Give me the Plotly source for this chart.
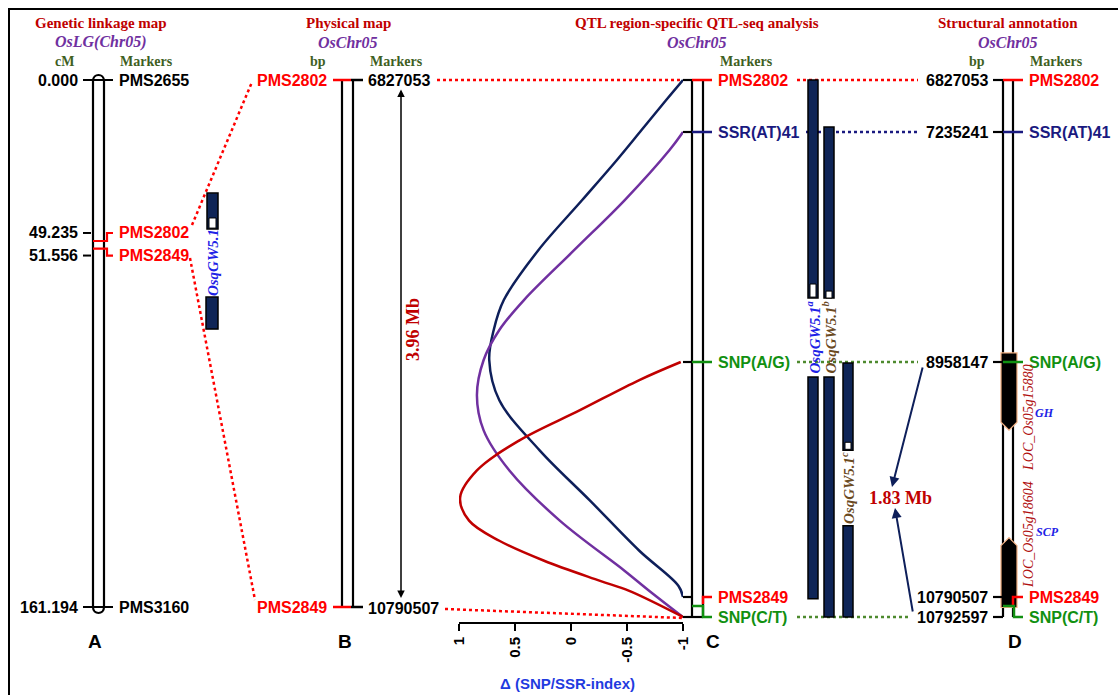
import numpy as np
import plotly.graph_objects as go

# ---------------- data ----------------
lg_markers = ["PMS2655", "PMS2802", "PMS2849", "PMS3160"]
lg_cM = [0.000, 49.235, 51.556, 161.194]
lg_colors = ["black", "#ff0000", "#ff0000", "black"]
lg_qtl_cM = [34.6, 45.6, 66.4, 76.2]          # upper seg start/end, lower seg start/end
lg_qtl_peak_cM = [42.2, 45.3]

phys_markers = ["PMS2802", "PMS2849"]
phys_bp = [6827053, 10790507]
interval_B = "3.96 Mb"

qtl_markers = ["PMS2802", "SSR(AT)41", "SNP(A/G)", "PMS2849", "SNP(C/T)"]
qtl_bp = [6827053, 7235241, 8958147, 10790507, 10792597]
qtl_colors = ["#ff0000", "#1a1a80", "#119011", "#ff0000", "#119011"]

# delta (SNP/SSR-index) profiles along the region (Mb)
navy_mb = [6.8271, 6.984, 7.220, 7.445, 7.745, 8.119, 8.494, 8.718, 8.943, 9.256, 9.647, 10.039, 10.430, 10.704, 10.7905]
navy_d = [-1.0, -0.85, -0.63, -0.41, -0.10, 0.29, 0.60, 0.69, 0.73, 0.64, 0.28, -0.17, -0.61, -0.96, -1.0]
purple_mb = [7.2352, 7.370, 7.745, 8.119, 8.494, 8.718, 8.943, 9.217, 9.491, 9.804, 10.195, 10.587, 10.743, 10.7926]
purple_d = [-1.0, -0.88, -0.48, -0.03, 0.42, 0.64, 0.78, 0.84, 0.78, 0.55, 0.10, -0.48, -0.70, -1.0]
red_mb = [8.9581, 9.099, 9.334, 9.569, 9.804, 10.015, 10.195, 10.352, 10.508, 10.665, 10.743, 10.7926]
red_d = [-0.98, -0.61, -0.08, 0.46, 0.84, 0.99, 0.91, 0.64, 0.24, -0.26, -0.52, -1.0]
delta_ticks = [1, 0.5, 0, -0.5, -1]
delta_ticktext = ["1", "0.5", "0", "-0.5", "-1"]

# QTL sub-intervals (Mb): [upper start, upper end, lower start, lower end], peak box
qtl_names = ["OsqGW5.1<sup>a</sup>", "OsqGW5.1<sup>b</sup>", "OsqGW5.1<sup>c</sup>"]
qtl_segs = [[6.8271, 8.479, 9.075, 10.7907],
            [7.196, 8.479, 9.075, 10.7926],
            [8.966, 9.647, 10.234, 10.7926]]
qtl_peaks = [[8.374, 8.472], [8.427, 8.479], [9.584, 9.639]]
qtl_label_colors = ["#1e22e6", "#6b4a1f", "#6b4a1f"]

genes = ["LOC_Os05g15880", "LOC_Os05g18604"]
gene_func = ["GH", "SCP"]
gene_mb = [[8.890, 9.490], [10.328, 10.7916]]
interval_D = "1.83 Mb"

# ---------------- styles / layout ----------------
W, H = 1118, 695
SANS = "Liberation Sans, Arial, sans-serif"
SERIF = "Liberation Serif, Times New Roman, serif"
TRED = "#c00000"
PURP = "#7030a0"
GRN = "#3f5f1f"
NAVY = "#0e1f5a"
BARFILL = "#0f2557"

TOP, BOT = 80, 607
yA = lambda c: TOP + np.asarray(c, float) * (BOT - TOP) / 161.194
yB = lambda b: TOP + (np.asarray(b, float) - phys_bp[0]) * (BOT - TOP) / (phys_bp[1] - phys_bp[0])
anch_px = [80, 132, 362, 597, 617]
anch_mb = [b / 1e6 for b in qtl_bp]
yC = lambda mb: np.interp(mb, anch_mb, anch_px)

shapes, anns = [], []


def line(x0, y0, x1, y1, color="black", width=2, dash=None):
    shapes.append(dict(type="line", xref="x", yref="y", x0=x0, y0=float(y0), x1=x1, y1=float(y1),
                       line=dict(color=color, width=width, dash=dash)))


def path(d, color="black", width=2, fill=None):
    s = dict(type="path", xref="x", yref="y", path=d, line=dict(color=color, width=width))
    if fill:
        s["fillcolor"] = fill
    shapes.append(s)


def rect(x0, y0, x1, y1, fill, lc="black", lw=1.5):
    shapes.append(dict(type="rect", xref="x", yref="y", x0=x0, y0=float(y0), x1=x1, y1=float(y1),
                       fillcolor=fill, line=dict(color=lc, width=lw)))


def text(x, y, s, size=16, color="black", family=SANS, bold=True, italic=False,
         xanchor="center", yanchor="middle", angle=0):
    f = dict(family=family, size=size, color=color)
    if bold:
        f["weight"] = "bold"
    if italic:
        f["style"] = "italic"
    anns.append(dict(x=x, y=float(y), xref="x", yref="y", text=s, showarrow=False, font=f,
                     xanchor=xanchor, yanchor=yanchor, textangle=angle, borderpad=0))


def arrow(x0, y0, x1, y1, color, width=1.5, both=False):
    a = dict(x=x1, y=float(y1), ax=x0, ay=float(y0), xref="x", yref="y", axref="x", ayref="y",
             text="", showarrow=True, arrowhead=2, arrowsize=1, arrowwidth=width, arrowcolor=color)
    if both:
        a.update(arrowside="end+start", startarrowhead=2, startarrowsize=1)
    anns.append(a)


# frame (right/bottom edges lie outside the picture)
rect(9, 9, 1122, 705, "rgba(0,0,0,0)", "black", 2)

# headers
def header(cx, title, sub, cols):
    text(cx, 23, title, 15, TRED, SERIF)
    text(cx, 42, sub, 16, PURP, SERIF, italic=True)
    for x, t in cols:
        text(x, 61, t, 14, GRN, SERIF)

header(101, "Genetic linkage map", "OsLG(Chr05)", [(64, "cM"), (146, "Markers")])
header(348, "Physical map", "OsChr05", [(318, "bp"), (396, "Markers")])
header(697, "QTL region-specific QTL-seq analysis", "OsChr05", [(746, "Markers")])
header(1008, "Structural annotation", "OsChr05", [(977, "bp"), (1056, "Markers")])

# ---------- connectors (drawn first) ----------
RDOT = "#ff0000"
line(192, 225, 252, 82, RDOT, 2.5, "dot")
line(190, 258, 255, 600, RDOT, 2.5, "dot")
line(437, yB(phys_bp[0]), 683, anch_px[0], RDOT, 2.5, "dot")
line(445, yB(phys_bp[1]) + 2, 683, anch_px[4] + 1, RDOT, 2.5, "dot")
line(797, anch_px[0], 918, anch_px[0], RDOT, 2.5, "dot")
line(806, anch_px[1], 920, anch_px[1], "#1a1a80", 2.5, "dot")
line(797, anch_px[2], 918, anch_px[2], "#4e8a2e", 2.5, "dot")
line(797, anch_px[4], 910, anch_px[4], "#4e8a2e", 2.5, "dot")

# ---------- Panel A ----------
path("M93,607 L93,81 C93,73 104,73 104,81 L104,607 C104,615 93,615 93,607 Z", "black", 2.2)
ya = yA(lg_cM)
line(83, ya[0], 113, ya[0])
line(83, ya[3], 113, ya[3])
lab_off = [0, -8, 7, 0]
for i in (1, 2):
    yl = ya[i] + lab_off[i]
    line(83, yl, 91, yl)
    path(f"M93,{ya[i]:.1f} L107,{ya[i]:.1f} L107,{yl:.1f} L113,{yl:.1f}", lg_colors[i], 2.2)
for i in range(4):
    yl = ya[i] + lab_off[i]
    text(79, yl, f"{lg_cM[i]:.3f}", 16, "black", xanchor="right")
    text(118, yl, lg_markers[i], 16, lg_colors[i], xanchor="left")
# QTL bar on A
qa = yA(lg_qtl_cM)
rect(207, qa[0], 218, qa[1], BARFILL)
pk = yA(lg_qtl_peak_cM)
rect(209, pk[0], 216, pk[1], "white", "black", 1)
rect(206, qa[2], 218, qa[3], BARFILL)
text(213, (qa[1] + qa[2]) / 2, "OsqGW5.1", 15, "#1e22e6", SERIF, italic=True, angle=-90)
text(95, 641, "A", 19)

# ---------- Panel B ----------
yb = yB(phys_bp)
line(342, yb[0], 342, yb[1], "black", 2.2)
line(353, yb[0], 353, yb[1], "black", 2.2)
for i in range(2):
    line(333, yb[i], 351, yb[i], "#ff0000", 2.5)
    line(351, yb[i], 363, yb[i], "black", 2.5)
    text(328, yb[i], phys_markers[i], 16, "#ff0000", xanchor="right")
    text(367, yb[i] + (1 if i else 0), f"{phys_bp[i]}", 16, "black", xanchor="left")
arrow(401, yb[0] + 8, 401, yb[1] - 9, "black", 1.5, both=True)
text(413, 330, interval_B, 18, TRED, SERIF, angle=-90)
text(345, 641, "B", 19)

# ---------- Panel C ----------
line(692, anch_px[0], 692, anch_px[4], "black", 2.2)
line(703, anch_px[0], 703, anch_px[4], "black", 2.2)
for i in range(3):
    line(683, anch_px[i], 692, anch_px[i], "black", 2.2)
    line(692, anch_px[i], 712, anch_px[i], qtl_colors[i], 2.5)
line(683, anch_px[3], 692, anch_px[3], "black", 2.2)
line(683, anch_px[4], 703, anch_px[4], "black", 2.2)
path(f"M703,{anch_px[3]+7} L703,{anch_px[3]} L712,{anch_px[3]}", qtl_colors[3], 2.5)
path(f"M692,{anch_px[3]+9} L703,{anch_px[3]+9} L703,{anch_px[4]} L712,{anch_px[4]}", qtl_colors[4], 2.5)
for i in range(5):
    text(717, anch_px[i], qtl_markers[i], 16, qtl_colors[i], xanchor="left")
# QTL bars
bar_x = [(808, 818), (824, 834), (843, 853)]
for (x0, x1), seg, pkb in zip(bar_x, qtl_segs, qtl_peaks):
    s = yC(seg)
    rect(x0, s[0], x1, s[1], BARFILL)
    rect(x0, s[2], x1, s[3], BARFILL)
    p = yC(pkb)
    rect(x0 + 2, p[0], x1 - 2, p[1], "white", "black", 1)
for (x0, x1), seg, nm, col in zip(bar_x, qtl_segs, qtl_names, qtl_label_colors):
    s = yC(seg)
    text((x0 + x1) / 2, (s[1] + s[2]) / 2, nm, 15, col, SERIF, italic=True, angle=-90)
text(713, 641, "C", 19)

# ---------- Panel D ----------
line(1003, anch_px[0], 1003, anch_px[4], "black", 2.2)
line(1013, anch_px[0], 1013, anch_px[4], "black", 2.2)
g1 = yC(gene_mb[0])
g2 = yC(gene_mb[1])
path(f"M1001,{g1[0]:.1f} L1017,{g1[0]:.1f} L1017,{g1[1]-8:.1f} L1009,{g1[1]:.1f} L1001,{g1[1]-8:.1f} Z",
     "#f4b183", 1.2, "black")
path(f"M1001,{g2[0]+8:.1f} L1009,{g2[0]:.1f} L1017,{g2[0]+8:.1f} L1017,{g2[1]:.1f} L1001,{g2[1]:.1f} Z",
     "#f4b183", 1.2, "black")
for i in range(5):
    line(993, anch_px[i], 1003, anch_px[i], "black", 2.2)
for i in range(3):
    line(1003, anch_px[i], 1023, anch_px[i], qtl_colors[i], 2.5)
path(f"M1013,{anch_px[3]+8} L1013,{anch_px[3]} L1023,{anch_px[3]}", qtl_colors[3], 2.5)
path(f"M1003,{anch_px[3]+9} L1014,{anch_px[3]+9} L1014,{anch_px[4]} L1023,{anch_px[4]}", qtl_colors[4], 2.5)
for i in range(5):
    text(989, anch_px[i], f"{qtl_bp[i]}", 16, "black", xanchor="right")
    text(1028, anch_px[i], qtl_markers[i], 16, qtl_colors[i], xanchor="left")
text(1028, 418, genes[0], 14, "#b01010", SERIF, bold=False, italic=True, angle=-90)
text(1028, 535, genes[1], 14, "#b01010", SERIF, bold=False, italic=True, angle=-90)
text(1044, 413, gene_func[0], 12, "#1e22e6", SERIF, italic=True)
text(1047, 532, gene_func[1], 12, "#1e22e6", SERIF, italic=True)
text(900, 498, interval_D, 18, TRED, SERIF)
arrow(923, anch_px[2] + 4, 892, 487, NAVY, 2)
arrow(913, anch_px[4] - 4, 895, 508, NAVY, 2)
text(1015, 641, "D", 19)

# ---------- curves ----------
fig = go.Figure()
for mb, d, col in [(navy_mb, navy_d, NAVY), (purple_mb, purple_d, "#7030a0"), (red_mb, red_d, "#c00000")]:
    fig.add_trace(go.Scatter(x=d, y=yC(mb), mode="lines", xaxis="x2", yaxis="y2",
                             line=dict(color=col, width=2.5, shape="spline", smoothing=1.0),
                             showlegend=False, hoverinfo="skip"))
# invisible trace on base axes
fig.add_trace(go.Scatter(x=[0, W], y=[0, H], mode="markers", marker=dict(opacity=0), showlegend=False,
                         hoverinfo="skip"))

text(567, 683, "\u0394 (SNP/SSR-index)", 15, "#1f3bdf")

fig.update_layout(
    width=W, height=H, autosize=False,
    margin=dict(l=0, r=0, t=0, b=0, pad=0, autoexpand=False),
    paper_bgcolor="white", plot_bgcolor="white", showlegend=False,
    xaxis=dict(range=[0, W], visible=False, domain=[0, 1], fixedrange=True, automargin=False),
    yaxis=dict(range=[H, 0], visible=False, domain=[0, 1], fixedrange=True, automargin=False),
    xaxis2=dict(domain=[459 / W, 683 / W], range=[1, -1], anchor="free", position=(H - 623) / H,
                showline=True, linecolor="black", linewidth=2, ticks="outside", ticklen=7,
                tickwidth=2, tickcolor="black", tickvals=delta_ticks, ticktext=delta_ticktext,
                tickangle=-90, tickfont=dict(family=SANS, size=15, color="black", weight="bold"),
                showgrid=False, zeroline=False, fixedrange=True, automargin=False),
    yaxis2=dict(domain=[0, 1], range=[H, 0], visible=False, anchor="x2", fixedrange=True,
                automargin=False),
    shapes=shapes, annotations=anns,
)
fig.write_html("out.html", config={"displayModeBar": False},
               post_script="document.body.style.margin='0px';document.body.style.overflow='hidden';")
